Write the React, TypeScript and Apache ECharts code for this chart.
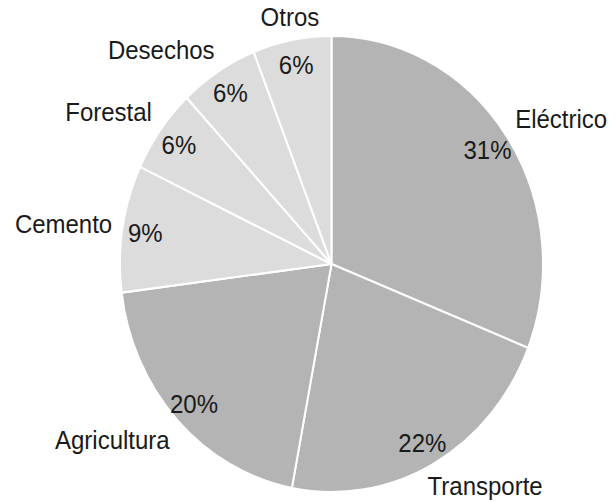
import React, { useEffect, useRef } from 'react';
import * as echarts from 'echarts';

// Data
const categories = ['Eléctrico', 'Transporte', 'Agricultura', 'Cemento', 'Forestal', 'Desechos', 'Otros'];
const shares = [31, 22, 20, 9, 6, 6, 6];

// Layout / style constants
const W = 615;
const H = 502;
const SY = 227 / 210.5; // reference pie is slightly taller than wide
const LOCAL_H = H / SY;
const CX = 331.5;
const CY = 264 / SY;
const R = 211.5;
const LABEL_D = 222;
const DARK = '#b4b4b4';
const LIGHT = '#dcdcdc';
const FONT = '"Liberation Sans", Arial, Helvetica, sans-serif';
const TEXT_COLOR = '#1a1a1a';

export default function App() {
  const ref = useRef<HTMLDivElement>(null);
  useEffect(() => {
    if (!ref.current) return;
    const chart = echarts.init(ref.current, null, { renderer: 'svg' });
    const total = shares.reduce((a, b) => a + b, 0);
    const midAngle = (i: number) => {
      let s = 0;
      for (let k = 0; k < i; k++) s += shares[k];
      return ((s + shares[i] / 2) / total) * 2 * Math.PI;
    };
    const clamp = (v: number, a: number, b: number) => Math.max(a, Math.min(b, v));
    const data = categories.map((name, i) => ({ name, value: shares[i] }));
    chart.setOption({
      animation: false,
      color: [DARK, DARK, DARK, LIGHT, LIGHT, LIGHT, LIGHT],
      textStyle: { fontFamily: FONT },
      series: [
        {
          type: 'pie',
          center: [CX, CY],
          radius: [0, R],
          startAngle: 90,
          clockwise: true,
          avoidLabelOverlap: false,
          silent: true,
          emphasis: { disabled: true },
          data,
          itemStyle: { borderColor: '#ffffff', borderWidth: 2 },
          label: {
            show: true,
            position: 'outside',
            formatter: '{b}',
            fontSize: 24,
            color: TEXT_COLOR,
            fontFamily: FONT,
          },
          labelLine: { show: false },
          labelLayout: (p: any) => {
            const th = midAngle(p.dataIndex);
            const ux = Math.sin(th);
            const uy = -Math.cos(th);
            const hw = p.labelRect.width / 2;
            const sx = clamp((Math.abs(ux) - 0.19) / 0.36, 0, 1) * Math.sign(ux);
            const sy = clamp(uy * 1.6, -1, 1);
            return {
              x: CX + LABEL_D * ux + hw * sx,
              y: CY + LABEL_D * uy + 11 * sy,
              align: 'center',
              verticalAlign: 'middle',
            };
          },
        },
        {
          type: 'pie',
          center: [CX, CY],
          radius: [R * 0.755, R],
          startAngle: 90,
          clockwise: true,
          avoidLabelOverlap: false,
          silent: true,
          emphasis: { disabled: true },
          data,
          itemStyle: { color: 'transparent', borderWidth: 0 },
          label: {
            show: true,
            position: 'inside',
            formatter: '{c}%',
            fontSize: 24,
            color: TEXT_COLOR,
            fontFamily: FONT,
          },
          labelLine: { show: false },
        },
      ],
    });
    return () => chart.dispose();
  }, []);
  return (
    <div
      ref={ref}
      style={{
        position: 'fixed',
        left: 0,
        top: 0,
        width: W,
        height: LOCAL_H,
        transform: `scaleY(${SY})`,
        transformOrigin: '0 0',
        background: '#ffffff',
      }}
    />
  );
}
